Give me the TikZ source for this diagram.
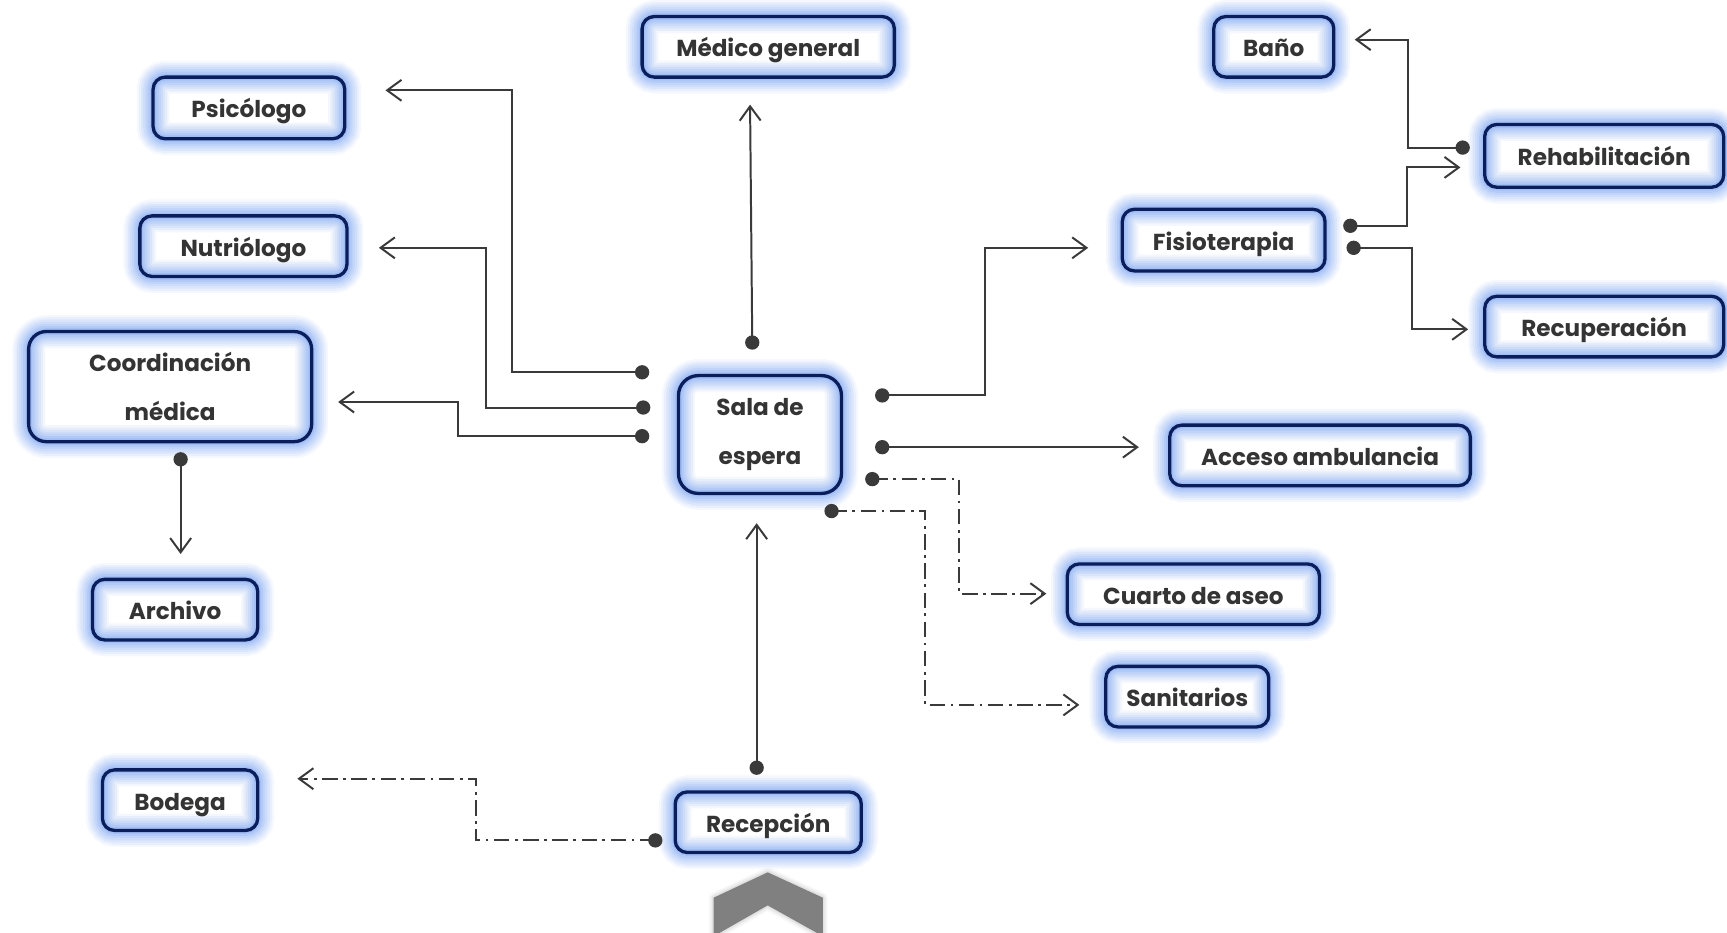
\documentclass[tikz,border=0pt]{standalone}
\usepackage{fontspec}
\setmainfont{Poppins}
\usetikzlibrary{arrows.meta}
\definecolor{navy}{RGB}{10,30,92}
\definecolor{glow}{RGB}{125,165,242}
\definecolor{lin}{RGB}{58,58,58}
\definecolor{txt}{RGB}{52,52,52}
\definecolor{chev}{RGB}{128,128,128}
\tikzset{
  box/.style={rectangle, rounded corners=11pt, inner sep=0pt, align=center,
    text=txt, font=\bfseries\fontsize{21}{45}\selectfont,
    preaction={fill=white},
    preaction={draw=glow, line width=30pt, draw opacity=.08},
    preaction={draw=glow, line width=26pt, draw opacity=.1},
    preaction={draw=glow, line width=22pt, draw opacity=.12},
    preaction={draw=glow, line width=18pt, draw opacity=.14},
    preaction={draw=glow, line width=14pt, draw opacity=.16},
    preaction={draw=glow, line width=10pt, draw opacity=.2},
    preaction={draw=glow, line width=6pt, draw opacity=.3},
    draw=navy, line width=3pt},
  one/.style={text height=18pt, text depth=0pt},
  link/.style={draw=lin, line width=1.8pt,
    -{Straight Barb[length=13pt,width=19pt,line width=1.8pt]}},
  dd/.style={dash pattern=on 14pt off 5pt on 2.5pt off 5pt},
  dot/.style={circle, fill=lin, inner sep=0pt, minimum size=13pt},
}
\begin{document}
\begin{tikzpicture}[x=1pt,y=-1pt]
\useasboundingbox (0,0) rectangle (1568,847);

% rooms
\node[box, one, minimum width=229pt, minimum height=55pt] (med) at (697.5,42.5) {Médico general};
\node[box, one, minimum width=174pt, minimum height=56pt] (psi) at (226,98) {Psicólogo};
\node[box, one, minimum width=188pt, minimum height=55pt] (nut) at (221,223.5) {Nutriólogo};
\node[box, rounded corners=16pt, minimum width=257pt, minimum height=100pt] (coo) at (154.5,351) {Coordinación\\médica};
\node[box, one, minimum width=150pt, minimum height=55pt] (arc) at (159,553.5) {Archivo};
\node[box, one, minimum width=141pt, minimum height=55pt] (bod) at (163.5,726.5) {Bodega};
\node[box, rounded corners=18pt, minimum width=148pt, minimum height=107pt] (sal) at (690,394.5) {Sala de\\espera};
\node[box, one, minimum width=169pt, minimum height=55pt] (rec) at (697.5,746.5) {Recepción};
\node[box, one, minimum width=109pt, minimum height=55pt] (ban) at (1156.5,42.5) {Baño};
\node[box, one, minimum width=217pt, minimum height=57pt] (reh) at (1456.5,141.5) {Rehabilitación};
\node[box, one, minimum width=184pt, minimum height=56pt] (fis) at (1111,218) {Fisioterapia};
\node[box, one, minimum width=217pt, minimum height=55pt] (rcu) at (1456.5,296.5) {Recuperación};
\node[box, one, minimum width=273pt, minimum height=55pt] (acc) at (1198.5,413.5) {Acceso ambulancia};
\node[box, one, minimum width=229pt, minimum height=55pt] (cua) at (1083.5,539.5) {Cuarto de aseo};
\node[box, one, minimum width=148pt, minimum height=55pt] (san) at (1078,632.5) {Sanitarios};

% entrance chevron
\foreach \w/\o in {9/.06,6/.08,3/.12}
  \draw[chev, line width=\w pt, draw opacity=\o, line join=round]
    (648,815) -- (697,792) -- (747,815) -- (747,850) -- (697,822) -- (648,850) -- cycle;
\fill[chev] (648,815) -- (697,792) -- (747,815) -- (747,850) -- (697,822) -- (648,850) -- cycle;

% connector start points
\node[dot] (d1) at (583,338) {};
\node[dot] (d2) at (584,370) {};
\node[dot] (d3) at (583,396) {};
\node[dot] (d4) at (683,311) {};
\node[dot] (d5) at (687,697) {};
\node[dot] (d6) at (164,417) {};
\node[dot] (d7) at (801,359) {};
\node[dot] (d8) at (801,406) {};
\node[dot] (d9) at (792,435) {};
\node[dot] (d10) at (755,464) {};
\node[dot] (d11) at (1226,205) {};
\node[dot] (d12) at (1229,225) {};
\node[dot] (d13) at (1328,134) {};
\node[dot] (d14) at (595,763) {};

% connector end points
\coordinate (t1) at (350,82);
\coordinate (t2) at (344,225);
\coordinate (t3) at (307,365);
\coordinate (t4) at (681,95);
\coordinate (t5) at (687,475);
\coordinate (t6) at (164,503);
\coordinate (t7) at (988,225);
\coordinate (t8) at (1034,406);
\coordinate (t9) at (950,539);
\coordinate (t10) at (980,640);
\coordinate (t11) at (1326,152);
\coordinate (t12) at (1333,299);
\coordinate (t13) at (1230,36);
\coordinate (t14) at (270,707);

% connectors
\draw[link] (d1.center) -| (465,82) -- (t1);
\draw[link] (d2.center) -| (441,225) -- (t2);
\draw[link] (d3.center) -| (416,365) -- (t3);
\draw[link] (d4.center) -- (t4);
\draw[link] (d5.center) -- (t5);
\draw[link] (d6.center) -- (t6);
\draw[link] (d7.center) -| (894,225) -- (t7);
\draw[link] (d8.center) -- (t8);
\draw[link, dd] (d9.center) -| (871,539) -- (t9);
\draw[link, dd] (d10.center) -| (840,640) -- (t10);
\draw[link] (d11.center) -| (1277,152) -- (t11);
\draw[link] (d12.center) -| (1282,299) -- (t12);
\draw[link] (d13.center) -| (1278,36) -- (t13);
\draw[link, dd] (d14.center) -| (432,707) -- (t14);
\end{tikzpicture}
\end{document}
